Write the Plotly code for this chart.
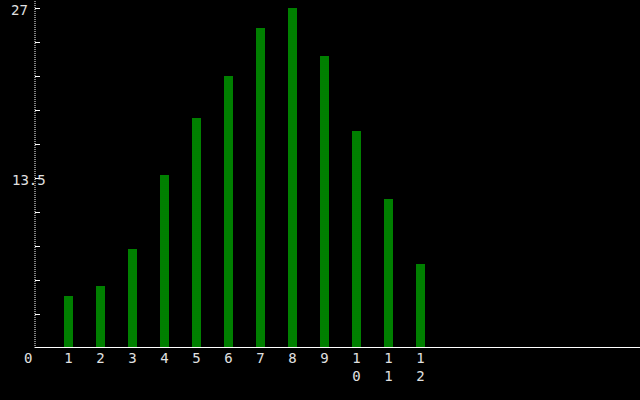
import plotly.graph_objects as go

categories = [1, 2, 3, 4, 5, 6, 7, 8, 9, 10, 11, 12]
tick_labels = ["1", "2", "3", "4", "5", "6", "7", "8", "9", "1<br>0", "1<br>1", "1<br>2"]
values = [4.1, 4.9, 7.9, 13.7, 18.3, 21.6, 25.4, 27.0, 23.2, 17.2, 11.8, 6.7]
y_max = 27
y_tick_step = 2.7
y_labels = ["27", "13.5", "0"]
y_label_vals = [27, 13.5, 0]

W, H = 640, 400
ml, mr, mt, mb = 35, 0, 0, 52
pw = W - ml - mr
ph = H - mt - mb

font = dict(family="DejaVu Sans Mono", size=14, color="#e0e0e0")

fig = go.Figure()
fig.add_trace(go.Bar(
    x=categories, y=values, width=0.31,
    marker=dict(
        color="#00ff00",
        line=dict(width=0),
        pattern=dict(shape="-", size=2, solidity=0.5, fgcolor="#00ff00", bgcolor="#000000", fillmode="replace"),
    ),
    showlegend=False,
))

ann = []
lefts = {"27": -26, "13.5": -25}
for lab, v in zip(y_labels, y_label_vals):
    if lab == "0":
        ann.append(dict(x=(28 - ml) / pw, xref="paper", y=v, yref="y", text=lab,
                        xanchor="center", yanchor="top", yshift=0, showarrow=False, font=font))
    else:
        ann.append(dict(x=lefts[lab] / pw, xref="paper", y=v, yref="y", text=lab,
                        xanchor="left", yanchor="top", yshift=8, showarrow=False, font=font))

fig.update_layout(
    width=W, height=H,
    margin=dict(l=ml, r=mr, t=mt, b=mb),
    paper_bgcolor="#000000", plot_bgcolor="#000000",
    bargap=0,
    xaxis=dict(
        range=[(ml - 36.5) / 32, (W - 36.5) / 32],
        tickvals=categories, ticktext=tick_labels,
        showgrid=False, zeroline=False, showline=False, ticks="",
        tickfont=font,
    ),
    yaxis=dict(
        range=[0, y_max * ph / 340],
        tick0=0, dtick=y_tick_step,
        ticks="inside", ticklen=5, tickwidth=1, tickcolor="#ffffff",
        showticklabels=False, showgrid=False, zeroline=False, showline=False,
    ),
    shapes=[
        dict(type="line", xref="paper", yref="paper", x0=0, x1=0, y0=0, y1=1,
             line=dict(color="#ffffff", width=1, dash="1px,1px")),
        dict(type="line", xref="paper", yref="y", x0=0, x1=1, y0=0, y1=0,
             line=dict(color="#ffffff", width=2)),
    ],
    annotations=ann,
)

fig.write_html(
    "out.html",
    config={"displayModeBar": False},
    post_script="document.body.style.margin='0';document.body.style.background='#000';",
)
